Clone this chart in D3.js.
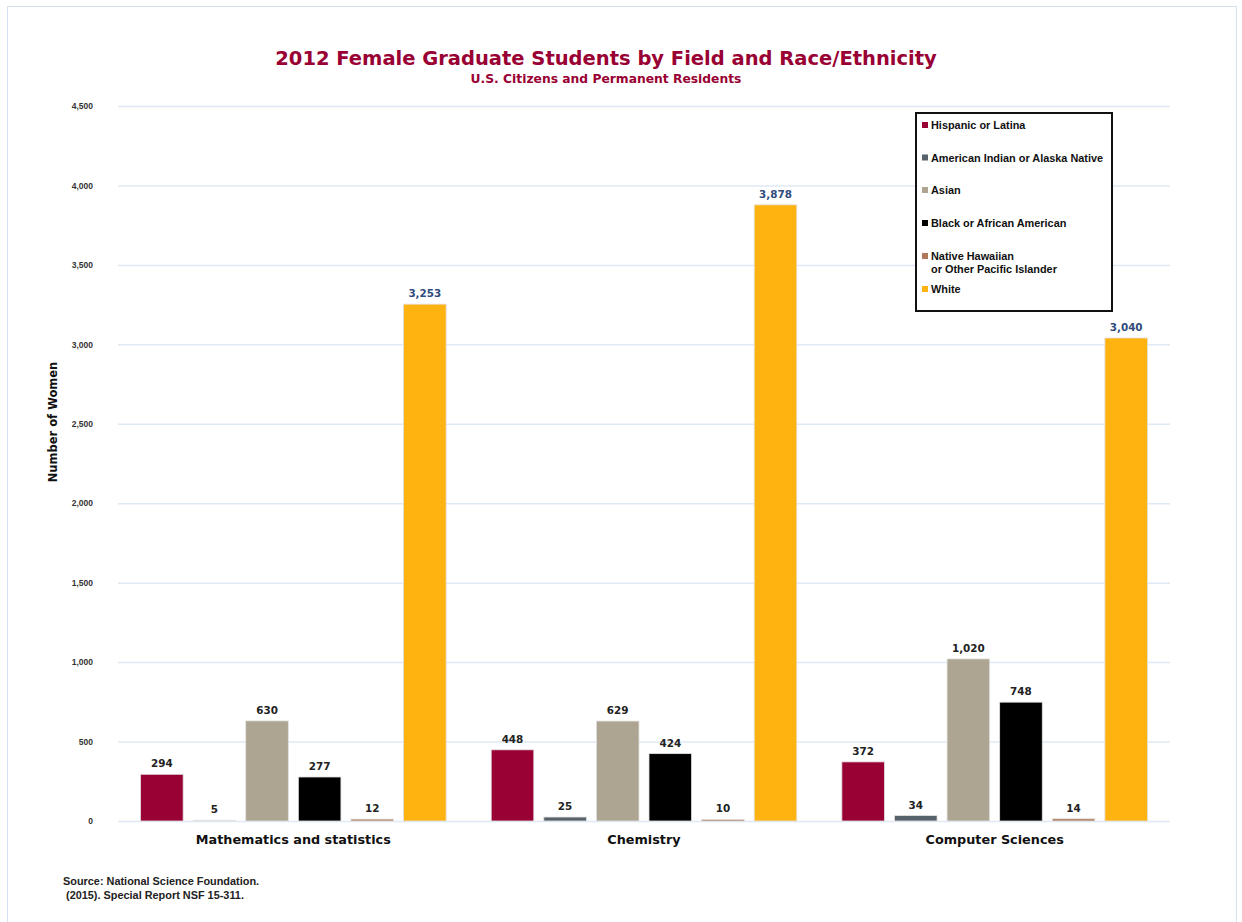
<!DOCTYPE html>
<html>
<head>
<meta charset="utf-8">
<script src="https://cdn.jsdelivr.net/npm/d3@7/dist/d3.min.js"></script>
<style>
  html, body { margin: 0; padding: 0; background: #fff; }
  svg { display: block; }
  text { font-family: "Liberation Sans", Arial, sans-serif; font-weight: bold; }
  .wide { font-family: "DejaVu Sans", Verdana, sans-serif; }
</style>
</head>
<body>
<svg id="chart" width="1242" height="922"></svg>
<script>
const fields = ["Mathematics and statistics", "Chemistry", "Computer Sciences"];
const groups = ["Hispanic or Latina", "American Indian or Alaska Native", "Asian",
                "Black or African American", "Native Hawaiian or Other Pacific Islander", "White"];
const legendLabels = [["Hispanic or Latina"], ["American Indian or Alaska Native"], ["Asian"],
                      ["Black or African American"], ["Native Hawaiian", "or Other Pacific Islander"], ["White"]];
const colors = ["#990033", "#57626b", "#ada591", "#000000", "#b07a5a", "#ffb311"];
const hispanic  = [294, 448, 372];
const amIndian  = [5, 25, 34];
const asian     = [630, 629, 1020];
const black     = [277, 424, 748];
const hawaiian  = [12, 10, 14];
const white     = [3253, 3878, 3040];
const yTicks = [0, 500, 1000, 1500, 2000, 2500, 3000, 3500, 4000, 4500];

const series = [hispanic, amIndian, asian, black, hawaiian, white];

const svg = d3.select("#chart");
const fmt = d3.format(",");

// frame
svg.append("rect").attr("x", 7.5).attr("y", 6.5).attr("width", 1229).attr("height", 940)
  .attr("fill", "none").attr("stroke", "#d3e2f2").attr("stroke-width", 1);

const y = d3.scaleLinear().domain([0, 4500]).range([821, 106]);
const x0 = d3.scaleBand().domain(fields).range([118, 1170]).paddingInner(0.1).paddingOuter(0.05);
const x1 = d3.scaleBand().domain(groups).range([0, x0.bandwidth()]).paddingInner(0.19).paddingOuter(0.095);

// gridlines
const yAxis = d3.axisLeft(y).tickValues(yTicks).tickSize(0).tickFormat(fmt);
const gy = svg.append("g").attr("transform", "translate(118,0)").call(yAxis);
gy.select(".domain").remove();
gy.selectAll(".tick line").attr("x2", 1052).attr("stroke", "#dfe9f5").attr("stroke-width", 1.5);
gy.selectAll(".tick text").attr("x", -25).attr("font-size", 8.5).attr("fill", "#333")
  .style("font-family", "'Liberation Sans', Arial, sans-serif").style("font-weight", "bold");

// bars
const data = [];
fields.forEach((f, i) => groups.forEach((g, j) => data.push({ f, g, j, v: series[j][i] })));

svg.append("g").selectAll("rect").data(data).join("rect")
  .attr("x", d => x0(d.f) + x1(d.g))
  .attr("width", x1.bandwidth())
  .attr("y", d => y(d.v))
  .attr("height", d => y(0) - y(d.v))
  .attr("fill", d => colors[d.j])
  .attr("stroke", "#e2e2e2").attr("stroke-width", 0.8);

svg.append("g").selectAll("text").data(data).join("text")
  .attr("class", "wide")
  .attr("x", d => x0(d.f) + x1(d.g) + x1.bandwidth() / 2)
  .attr("y", d => y(d.v) - 7)
  .attr("text-anchor", "middle")
  .attr("font-size", 10.4)
  .attr("fill", d => d.j === 5 ? "#2f4b7c" : "#222")
  .text(d => fmt(d.v));

// x labels
svg.append("g").selectAll("text").data(fields).join("text")
  .attr("class", "wide")
  .attr("x", d => x0(d) + x0.bandwidth() / 2)
  .attr("y", 844)
  .attr("text-anchor", "middle")
  .attr("font-size", 12.8)
  .attr("fill", "#111")
  .text(d => d);

// titles
svg.append("text").attr("class", "wide").attr("x", 606).attr("y", 65).attr("text-anchor", "middle")
  .attr("font-size", 19.5).attr("fill", "#990033")
  .text("2012 Female Graduate Students by Field and Race/Ethnicity");
svg.append("text").attr("class", "wide").attr("x", 606).attr("y", 83).attr("text-anchor", "middle")
  .attr("font-size", 12.3).attr("fill", "#990033")
  .text("U.S. Citizens and Permanent Residents");

// y title
svg.append("text").attr("class", "wide").attr("transform", "translate(57,422) rotate(-90)")
  .attr("text-anchor", "middle").attr("font-size", 11.5).attr("fill", "#111")
  .text("Number of Women");

// source
svg.append("text").attr("x", 63).attr("y", 885).attr("font-size", 10.9).attr("fill", "#222")
  .text("Source: National Science Foundation.");
svg.append("text").attr("x", 66).attr("y", 899).attr("font-size", 10.9).attr("fill", "#222")
  .text("(2015). Special Report NSF 15-311.");

// legend
const lg = svg.append("g");
lg.append("rect").attr("x", 916).attr("y", 113).attr("width", 196).attr("height", 198)
  .attr("fill", "#fff").attr("stroke", "#111").attr("stroke-width", 2);
const legY = [125, 157.5, 190, 223, 256, 289];
legendLabels.forEach((lines, i) => {
  lg.append("rect").attr("x", 922).attr("y", legY[i] - 3).attr("width", 6).attr("height", 6)
    .attr("fill", colors[i]);
  lines.forEach((t, k) => {
    lg.append("text").attr("x", 931).attr("y", legY[i] + 4 + k * 13)
      .attr("font-size", 10.9).attr("fill", "#111").text(t);
  });
});
</script>
</body>
</html>
